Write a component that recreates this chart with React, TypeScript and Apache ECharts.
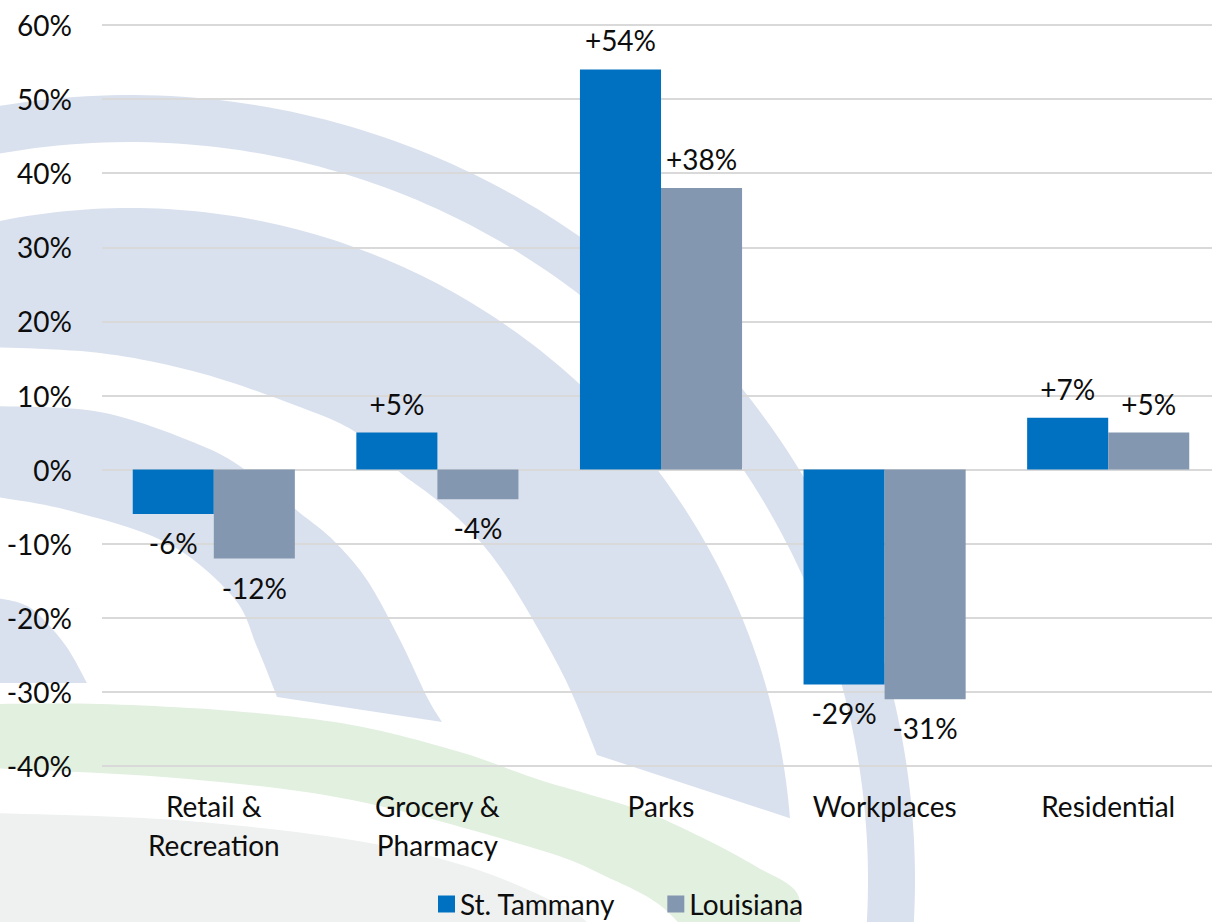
import React, { useEffect, useRef } from "react";
import * as echarts from "echarts";

// ---------- data ----------
const categories = ["Retail &\nRecreation", "Grocery &\nPharmacy", "Parks", "Workplaces", "Residential"];
const seriesNames = ["St. Tammany", "Louisiana"];
const stTammany = [-6, 5, 54, -29, 7];
const louisiana = [-12, -4, 38, -31, 5];
const yMin = -40;
const yMax = 60;
const yStep = 10;

// ---------- styles ----------
const FONT = 'Lato, "Noto Sans", "DejaVu Sans", sans-serif';
const TEXT = "#0d0d0d";
const BLUE = "#0070C0";
const GREY = "#8497B0";
const WM_BLUE = "#DAE1EE";
const WM_GREEN = "#E2F0E0";
const WM_GREY = "#EFF1F1";
const FS = 28;

// ---------- watermark geometry (decorative background) ----------
type P = number[];
function spline(pts: P[], seg = 12): P[] {
  const out: P[] = [];
  for (let i = 0; i < pts.length - 1; i++) {
    const p0 = pts[Math.max(i - 1, 0)];
    const p1 = pts[i];
    const p2 = pts[i + 1];
    const p3 = pts[Math.min(i + 2, pts.length - 1)];
    for (let s = 0; s < seg; s++) {
      const t = s / seg;
      const t2 = t * t;
      const t3 = t2 * t;
      out.push(
        [0, 1].map(
          (k) =>
            0.5 *
            (2 * p1[k] +
              (-p0[k] + p2[k]) * t +
              (2 * p0[k] - 5 * p1[k] + 4 * p2[k] - p3[k]) * t2 +
              (-p0[k] + 3 * p1[k] - 3 * p2[k] + p3[k]) * t3)
        )
      );
    }
  }
  out.push(pts[pts.length - 1]);
  return out;
}
function arc(cx: number, cy: number, r: number, a0: number, a1: number, n = 120): P[] {
  const out: P[] = [];
  for (let i = 0; i <= n; i++) {
    const a = a0 + ((a1 - a0) * i) / n;
    out.push([cx + r * Math.cos(a), cy + r * Math.sin(a)]);
  }
  return out;
}
function leftAngle(cx: number, r: number, x: number) {
  return Math.PI + Math.acos((cx - x) / r);
}

function watermark() {
  // band A (thin outer ring)
  const aCx = 130, aCy = 880, aR = 785, aR0 = 738;
  const bandA = [
    ...arc(aCx, aCy, aR, leftAngle(aCx, aR, -10), 2 * Math.PI + 0.1),
    ...arc(aCx, aCy, aR0, leftAngle(aCx, aR0, -10), 2 * Math.PI + 0.1).reverse(),
  ];
  // band B
  const bCx = 130, bCy = 870, bR = 662;
  const bEnd = [793, 818];
  const bandB = [
    ...arc(bCx, bCy, bR, leftAngle(bCx, bR, -10), 2 * Math.PI + Math.atan2(bEnd[1] - bCy, bEnd[0] - bCx)),
    ...spline([
      [597, 755], [568, 685], [533, 620], [500, 567], [467, 527], [433, 497],
      [397, 470], [357, 433], [300, 407], [200, 373], [100, 353], [-10, 347],
    ]),
  ];
  // band C
  const bandC = [
    ...spline([
      [-10, 406], [100, 412], [200, 445], [250, 473], [300, 513], [333, 540],
      [367, 580], [400, 640], [427, 697], [442, 722],
    ]),
    ...spline([[-10, 496], [67, 510], [167, 543], [233, 597], [257, 647], [277, 697]]).reverse(),
  ];
  // band D
  const bandD = [
    ...spline([[-10, 597], [20, 603], [39, 615], [66, 646], [87, 683]]),
    [-10, 683],
  ];
  // green swoosh
  const green = [
    ...spline([
      [-10, 704], [100, 704], [233, 711], [352, 725], [460, 752], [540, 780],
      [640, 810], [707, 840], [757, 867], [797, 893], [799, 935],
    ]),
    ...spline([
      [-10, 768], [176, 778], [352, 800], [540, 850], [607, 877], [657, 903], [690, 935],
    ]).reverse(),
  ];
  // grey swoosh
  const grey = [
    ...spline([[-10, 813], [176, 820], [352, 840], [469, 867], [557, 903], [587, 922], [595, 935]]),
    [-10, 935],
  ];
  const poly = (points: P[], fill: string) => ({
    type: "polygon",
    silent: true,
    z: -10,
    shape: { points },
    style: { fill },
  });
  return [
    poly(grey, WM_GREY),
    poly(green, WM_GREEN),
    poly(bandD, WM_BLUE),
    poly(bandC, WM_BLUE),
    poly(bandB, WM_BLUE),
    poly(bandA, WM_BLUE),
  ];
}

const fmtLabel = (v: number) => (v > 0 ? "+" : "") + v + "%";

function makeSeries(name: string, values: number[], color: string) {
  return {
    name,
    type: "bar",
    barGap: "0%",
    barCategoryGap: "27.5%",
    itemStyle: { color },
    label: {
      show: true,
      distance: 15,
      fontFamily: FONT,
      fontSize: FS,
      color: TEXT,
      formatter: (p: any) => fmtLabel(p.value),
    },
    data: values.map((v) => ({
      value: v,
      label: { position: v >= 0 ? "top" : "bottom" },
    })),
  };
}

export default function App() {
  const ref = useRef<HTMLDivElement>(null);
  useEffect(() => {
    if (!ref.current) return;
    const chart = echarts.init(ref.current, undefined, { renderer: "svg" });
    chart.setOption({
      animation: false,
      backgroundColor: "#ffffff",
      graphic: watermark(),
      grid: { left: 102, top: 25, width: 1118, height: 741, containLabel: false },
      legend: {
        data: seriesNames,
        left: 438,
        top: 890,
        padding: 0,
        itemWidth: 17,
        itemHeight: 17,
        itemGap: 52,
        icon: "rect",
        textStyle: { fontFamily: FONT, fontSize: FS, lineHeight: 28, color: TEXT },
      },
      xAxis: {
        type: "category",
        data: categories,
        axisLine: { show: false },
        axisTick: { show: false },
        axisLabel: {
          interval: 0,
          margin: 20,
          fontFamily: FONT,
          fontSize: FS,
          lineHeight: 39,
          color: TEXT,
        },
      },
      yAxis: {
        type: "value",
        min: yMin,
        max: yMax,
        interval: yStep,
        axisLine: { show: false },
        axisTick: { show: false },
        axisLabel: {
          margin: 30,
          fontFamily: FONT,
          fontSize: FS,
          color: TEXT,
          formatter: (v: number) => v + "%",
        },
        splitLine: { lineStyle: { color: "#D9D9D9", width: 2 } },
      },
      series: [
        makeSeries(seriesNames[0], stTammany, BLUE),
        makeSeries(seriesNames[1], louisiana, GREY),
      ],
    });
    return () => chart.dispose();
  }, []);
  return (
    <div
      style={{
        position: "fixed",
        left: 0,
        top: 0,
        width: 1212,
        height: 922,
        overflow: "hidden",
      }}
    >
      <div ref={ref} style={{ width: 1232, height: 922 }} />
    </div>
  );
}
